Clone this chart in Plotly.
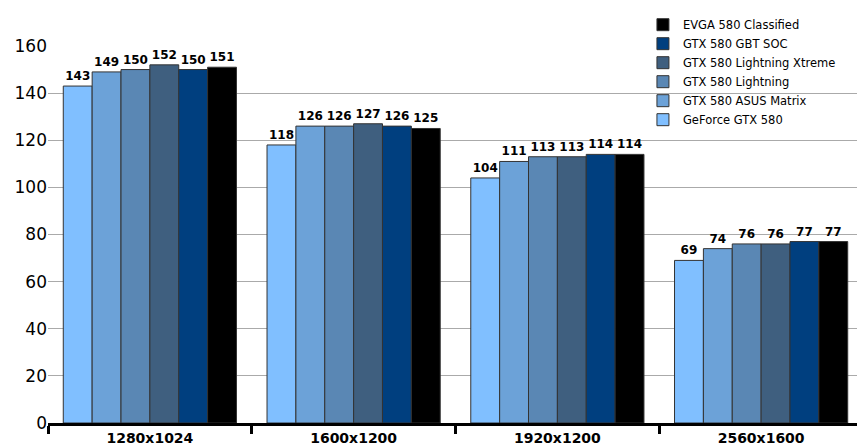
import plotly.graph_objects as go

categories = ["1280x1024", "1600x1200", "1920x1200", "2560x1600"]
series = ["GeForce GTX 580", "GTX 580 ASUS Matrix", "GTX 580 Lightning",
          "GTX 580 Lightning Xtreme", "GTX 580 GBT SOC", "EVGA 580 Classified"]
values = [
    [143, 118, 104, 69],
    [149, 126, 111, 74],
    [150, 126, 113, 76],
    [152, 127, 113, 76],
    [150, 126, 114, 77],
    [151, 125, 114, 77],
]
colors = ["#80BFFF", "#6CA2D8", "#5A87B4", "#3F5F7F", "#003F7F", "#000000"]

fig = go.Figure()
for name, vals, c in zip(series, values, colors):
    fig.add_bar(x=categories, y=vals, name=name, marker_color=c,
                marker_line=dict(color="#333333", width=1),
                text=[str(v) for v in vals], textposition="outside",
                textfont=dict(family="DejaVu Sans", size=12, color="black"),
                texttemplate="<b>%{text}</b>", cliponaxis=False)

fig.update_layout(
    width=865, height=447, barmode="group", bargap=0.15, bargroupgap=0,
    plot_bgcolor="white", paper_bgcolor="white",
    margin=dict(l=40, r=10, t=38, b=32, autoexpand=False),
    font=dict(family="DejaVu Sans", size=13, color="black"),
    legend=dict(traceorder="reversed", x=0.73, y=1.095, xanchor="left", yanchor="top",
                bgcolor="rgba(0,0,0,0)", font=dict(size=11.5), itemwidth=30,
                tracegroupgap=0),
)
fig.update_yaxes(range=[0, 160], dtick=20, showgrid=True, gridcolor="#aaaaaa",
                 tickfont=dict(size=17), zeroline=False, showline=False)
fig.update_xaxes(showline=True, linecolor="black", linewidth=3, tickson="boundaries",
                 ticks="outside", ticklen=8, tickwidth=3, tickcolor="black",
                 tickfont=dict(size=14, family="DejaVu Sans"),
                 tickprefix="<b>", ticksuffix="</b>")
fig.write_html("out.html")
